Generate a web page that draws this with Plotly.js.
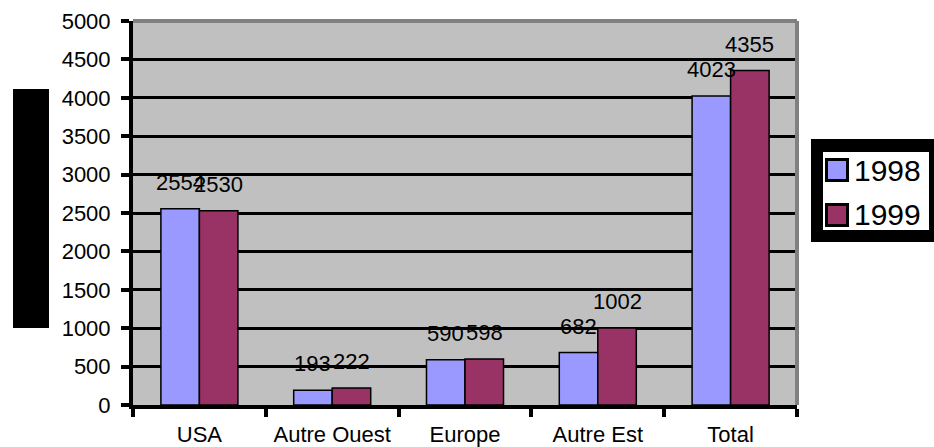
<!DOCTYPE html>
<html>
<head>
<meta charset="utf-8">
<script src="https://cdn.plot.ly/plotly-3.0.1.min.js"></script>
<style>
  html, body { margin: 0; padding: 0; background: #ffffff; }
  #chart { width: 934px; height: 447px; }
</style>
</head>
<body>
<div id="chart"></div>
<script>
// Regions and yearly values
const categories = ['USA', 'Autre Ouest', 'Europe', 'Autre Est', 'Total'];
const seriesNames = ['1998', '1999'];
const values1998 = [2554, 193, 590, 682, 4023];
const values1999 = [2530, 222, 598, 1002, 4355];
const yTicks = [0, 500, 1000, 1500, 2000, 2500, 3000, 3500, 4000, 4500, 5000];

const colors = ['#9999FF', '#993366'];
const FONT = 'Liberation Sans, Arial, sans-serif';
const BARGAP = 0.42;

// Plot-area geometry in pixels (used to place legend box and side block)
const W = 934, H = 447;
const M = { l: 133, r: 137, t: 21, b: 42 };
const PW = W - M.l - M.r, PH = H - M.t - M.b;
const px = x => (x - M.l) / PW;
const py = y => (H - M.b - y) / PH;

const series = [values1998, values1999];
const traces = series.map((vals, i) => ({
  type: 'bar',
  name: seriesNames[i],
  x: categories,
  y: vals,
  marker: { color: colors[i], line: { color: '#000000', width: 1.5 } },
  hoverinfo: 'x+y+name',
  showlegend: false
}));

// Value labels above each bar
const barW = (1 - BARGAP) / 2;
const annotations = [];
series.forEach((vals, i) => {
  const off = (i - 0.5) * barW;
  vals.forEach((v, k) => {
    annotations.push({
      x: k + off, y: v, xref: 'x', yref: 'y',
      text: String(v), showarrow: false,
      xanchor: 'center', yanchor: 'bottom', yshift: 12,
      font: { family: FONT, size: 22, color: '#000000' }
    });
  });
});

// Legend entries drawn inside a framed box
const legendRows = [170, 215];
const shapes = [
  // gray border on top and right of plot area
  { type: 'line', xref: 'paper', yref: 'paper', x0: 0, x1: 1, y0: 1, y1: 1,
    line: { color: '#808080', width: 4 }, layer: 'above' },
  { type: 'line', xref: 'paper', yref: 'paper', x0: 1, x1: 1, y0: 0, y1: 1,
    line: { color: '#808080', width: 4 }, layer: 'above' },
  // black block left of the value axis
  { type: 'rect', xref: 'paper', yref: 'paper',
    x0: px(13), x1: px(49), y0: py(328), y1: py(89),
    fillcolor: '#000000', line: { width: 0 } },
  // legend frame
  { type: 'rect', xref: 'paper', yref: 'paper',
    x0: px(811), x1: px(934), y0: py(242), y1: py(139),
    fillcolor: '#000000', line: { width: 0 } },
  { type: 'rect', xref: 'paper', yref: 'paper',
    x0: px(823), x1: px(929), y0: py(230), y1: py(152),
    fillcolor: '#ffffff', line: { width: 0 } }
];
seriesNames.forEach((name, i) => {
  const cy = legendRows[i];
  shapes.push({
    type: 'rect', xref: 'paper', yref: 'paper',
    x0: px(826.5), x1: px(847.5), y0: py(cy + 10.5), y1: py(cy - 10.5),
    fillcolor: colors[i], line: { color: '#000000', width: 3 }
  });
  annotations.push({
    x: px(852), y: py(cy), xref: 'paper', yref: 'paper',
    text: name, showarrow: false, xanchor: 'left', yanchor: 'middle',
    font: { family: FONT, size: 30, color: '#000000' }
  });
});

const layout = {
  width: W, height: H,
  margin: M,
  paper_bgcolor: '#ffffff',
  plot_bgcolor: '#C0C0C0',
  barmode: 'group',
  bargap: BARGAP,
  bargroupgap: 0,
  showlegend: false,
  font: { family: FONT, size: 22, color: '#000000' },
  xaxis: {
    type: 'category',
    showgrid: false,
    showline: true, linecolor: '#000000', linewidth: 4,
    ticks: 'outside', tickson: 'boundaries', ticklen: 8, tickwidth: 4, tickcolor: '#000000',
    ticklabelstandoff: 7,
    tickfont: { family: FONT, size: 22, color: '#000000' },
    fixedrange: true
  },
  yaxis: {
    range: [0, 5000],
    tickvals: yTicks,
    ticktext: yTicks.map(String),
    showgrid: true, gridcolor: '#000000', gridwidth: 3,
    zeroline: false,
    showline: true, linecolor: '#000000', linewidth: 4,
    ticks: 'outside', ticklen: 8, tickwidth: 4, tickcolor: '#000000',
    ticklabelstandoff: 6,
    tickfont: { family: FONT, size: 22, color: '#000000' },
    fixedrange: true
  },
  shapes: shapes,
  annotations: annotations
};

Plotly.newPlot('chart', traces, layout, { displayModeBar: false, staticPlot: true });
</script>
</body>
</html>
